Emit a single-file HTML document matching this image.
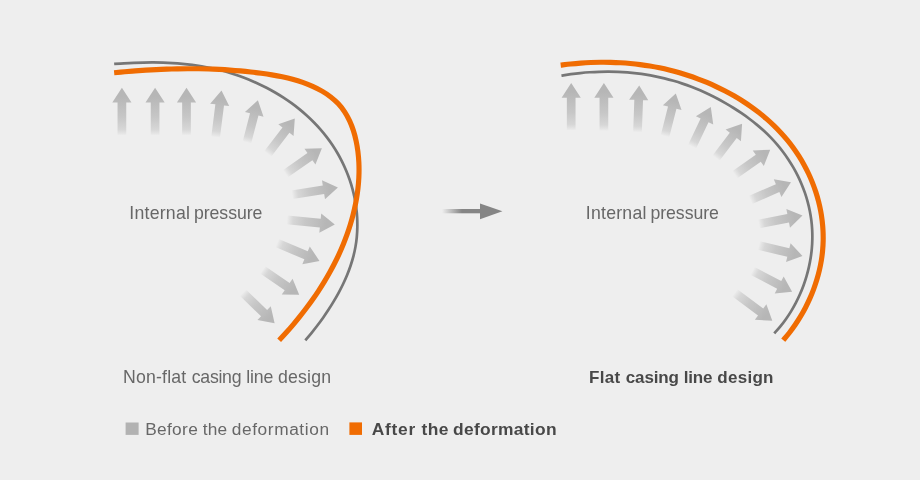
<!DOCTYPE html>
<html lang="en"><head><meta charset="utf-8"><title>Casing line design</title>
<style>
html,body{margin:0;padding:0;background:#eeeeee;}
body{width:920px;height:480px;overflow:hidden;position:relative;font-family:"Liberation Sans",sans-serif;}
svg{position:absolute;left:0;top:0;display:block;will-change:transform}
text{font-family:"Liberation Sans",sans-serif;}
</style></head><body>
<svg width="920" height="480" viewBox="0 0 920 480">
<defs>
<linearGradient id="ag" x1="0" y1="0" x2="1" y2="0">
<stop offset="0" stop-color="#b6b6b6" stop-opacity="0"/>
<stop offset="0.05" stop-color="#b6b6b6" stop-opacity="0.18"/>
<stop offset="0.13" stop-color="#b6b6b6" stop-opacity="0.42"/>
<stop offset="0.38" stop-color="#b6b6b6" stop-opacity="0.70"/>
<stop offset="0.68" stop-color="#b6b6b6" stop-opacity="0.9"/>
<stop offset="0.82" stop-color="#b6b6b6" stop-opacity="1"/>
</linearGradient>
<linearGradient id="mg" gradientUnits="userSpaceOnUse" x1="442" y1="0" x2="462" y2="0">
<stop offset="0" stop-color="#858585" stop-opacity="0"/>
<stop offset="1" stop-color="#858585" stop-opacity="1"/>
</linearGradient>
</defs>
<rect width="920" height="480" fill="#eeeeee"/>

<g>
<path d="M0 -4.35 L33.20 -4.35 L33.20 -9.60 L47.80 0 L33.20 9.60 L33.20 4.35 L0 4.35 Z" fill="url(#ag)" transform="translate(121.90 135.60) rotate(-90.00)"/>
<path d="M0 -4.35 L33.20 -4.35 L33.20 -9.60 L47.80 0 L33.20 9.60 L33.20 4.35 L0 4.35 Z" fill="url(#ag)" transform="translate(155.10 135.60) rotate(-90.00)"/>
<path d="M0 -4.35 L33.20 -4.35 L33.20 -9.60 L47.80 0 L33.20 9.60 L33.20 4.35 L0 4.35 Z" fill="url(#ag)" transform="translate(186.50 135.60) rotate(-90.00)"/>
<path d="M0 -4.35 L32.67 -4.35 L32.67 -9.60 L47.27 0 L32.67 9.60 L32.67 4.35 L0 4.35 Z" fill="url(#ag)" transform="translate(215.60 137.30) rotate(-82.83)"/>
<path d="M0 -4.35 L29.11 -4.35 L29.11 -9.60 L43.71 0 L29.11 9.60 L29.11 4.35 L0 4.35 Z" fill="url(#ag)" transform="translate(246.90 142.50) rotate(-75.42)"/>
<path d="M0 -4.35 L30.06 -4.35 L30.06 -9.60 L44.66 0 L30.06 9.60 L30.06 4.35 L0 4.35 Z" fill="url(#ag)" transform="translate(267.70 154.00) rotate(-52.64)"/>
<path d="M0 -4.35 L29.90 -4.35 L29.90 -9.60 L44.50 0 L29.90 9.60 L29.90 4.35 L0 4.35 Z" fill="url(#ag)" transform="translate(285.40 173.75) rotate(-34.89)"/>
<path d="M0 -4.35 L31.88 -4.35 L31.88 -9.60 L46.48 0 L31.88 9.60 L31.88 4.35 L0 4.35 Z" fill="url(#ag)" transform="translate(292.00 194.80) rotate(-9.04)"/>
<path d="M0 -4.35 L33.54 -4.35 L33.54 -9.60 L48.14 0 L33.54 9.60 L33.54 4.35 L0 4.35 Z" fill="url(#ag)" transform="translate(286.90 219.80) rotate(5.72)"/>
<path d="M0 -4.35 L31.55 -4.35 L31.55 -9.60 L46.15 0 L31.55 9.60 L31.55 4.35 L0 4.35 Z" fill="url(#ag)" transform="translate(277.00 243.00) rotate(22.95)"/>
<path d="M0 -4.35 L29.64 -4.35 L29.64 -9.60 L44.24 0 L29.64 9.60 L29.64 4.35 L0 4.35 Z" fill="url(#ag)" transform="translate(262.70 269.80) rotate(34.41)"/>
<path d="M0 -4.35 L29.46 -4.35 L29.46 -9.60 L44.06 0 L29.46 9.60 L29.46 4.35 L0 4.35 Z" fill="url(#ag)" transform="translate(242.90 292.70) rotate(43.99)"/>
<path d="M0 -4.35 L32.90 -4.35 L32.90 -9.60 L47.50 0 L32.90 9.60 L32.90 4.35 L0 4.35 Z" fill="url(#ag)" transform="translate(571.20 130.60) rotate(-90.00)"/>
<path d="M0 -4.35 L33.30 -4.35 L33.30 -9.60 L47.90 0 L33.30 9.60 L33.30 4.35 L0 4.35 Z" fill="url(#ag)" transform="translate(603.90 131.00) rotate(-90.00)"/>
<path d="M0 -4.35 L32.33 -4.35 L32.33 -9.60 L46.93 0 L32.33 9.60 L32.33 4.35 L0 4.35 Z" fill="url(#ag)" transform="translate(637.50 132.30) rotate(-87.92)"/>
<path d="M0 -4.35 L29.49 -4.35 L29.49 -9.60 L44.09 0 L29.49 9.60 L29.49 4.35 L0 4.35 Z" fill="url(#ag)" transform="translate(665.00 136.25) rotate(-75.82)"/>
<path d="M0 -4.35 L29.19 -4.35 L29.19 -9.60 L43.79 0 L29.19 9.60 L29.19 4.35 L0 4.35 Z" fill="url(#ag)" transform="translate(692.10 146.70) rotate(-64.72)"/>
<path d="M0 -4.35 L28.54 -4.35 L28.54 -9.60 L43.14 0 L28.54 9.60 L28.54 4.35 L0 4.35 Z" fill="url(#ag)" transform="translate(716.00 158.10) rotate(-52.77)"/>
<path d="M0 -4.35 L28.74 -4.35 L28.74 -9.60 L43.34 0 L28.74 9.60 L28.74 4.35 L0 4.35 Z" fill="url(#ag)" transform="translate(734.80 174.80) rotate(-35.23)"/>
<path d="M0 -4.35 L29.69 -4.35 L29.69 -9.60 L44.29 0 L29.69 9.60 L29.69 4.35 L0 4.35 Z" fill="url(#ag)" transform="translate(750.40 200.00) rotate(-23.56)"/>
<path d="M0 -4.35 L29.95 -4.35 L29.95 -9.60 L44.55 0 L29.95 9.60 L29.95 4.35 L0 4.35 Z" fill="url(#ag)" transform="translate(758.75 224.00) rotate(-10.87)"/>
<path d="M0 -4.35 L30.42 -4.35 L30.42 -9.60 L45.02 0 L30.42 9.60 L30.42 4.35 L0 4.35 Z" fill="url(#ag)" transform="translate(758.75 245.40) rotate(13.62)"/>
<path d="M0 -4.35 L30.18 -4.35 L30.18 -9.60 L44.78 0 L30.18 9.60 L30.18 4.35 L0 4.35 Z" fill="url(#ag)" transform="translate(752.50 270.80) rotate(27.82)"/>
<path d="M0 -4.35 L32.26 -4.35 L32.26 -9.60 L46.86 0 L32.26 9.60 L32.26 4.35 L0 4.35 Z" fill="url(#ag)" transform="translate(734.80 292.70) rotate(36.85)"/>
</g>
<path d="M114.16 63.97 C115.79 63.86 120.69 63.50 123.95 63.31 C127.21 63.12 130.47 62.95 133.74 62.82 C137.00 62.69 140.26 62.59 143.52 62.53 C146.78 62.47 150.03 62.44 153.29 62.45 C156.54 62.47 159.79 62.52 163.04 62.63 C166.28 62.73 169.52 62.88 172.76 63.08 C175.99 63.27 179.22 63.52 182.44 63.82 C185.67 64.12 188.88 64.48 192.09 64.89 C195.30 65.31 198.49 65.78 201.68 66.31 C204.87 66.85 208.05 67.44 211.22 68.11 C214.39 68.77 217.55 69.50 220.70 70.31 C223.85 71.11 226.99 71.98 230.11 72.93 C233.23 73.88 236.34 74.90 239.42 75.99 C242.50 77.09 245.57 78.25 248.61 79.49 C251.65 80.72 254.66 82.03 257.64 83.40 C260.62 84.78 263.58 86.22 266.49 87.74 C269.40 89.25 272.28 90.84 275.11 92.49 C277.94 94.14 280.74 95.86 283.48 97.65 C286.22 99.44 288.92 101.29 291.56 103.21 C294.20 105.13 296.80 107.12 299.33 109.17 C301.86 111.22 304.33 113.34 306.74 115.52 C309.15 117.70 311.50 119.95 313.77 122.26 C316.05 124.57 318.26 126.94 320.39 129.38 C322.52 131.81 324.58 134.31 326.55 136.87 C328.53 139.43 330.43 142.05 332.24 144.73 C334.05 147.41 335.78 150.16 337.41 152.96 C339.05 155.76 340.59 158.62 342.04 161.53 C343.49 164.44 344.85 167.40 346.11 170.40 C347.37 173.40 348.53 176.45 349.59 179.52 C350.64 182.60 351.60 185.71 352.45 188.85 C353.30 191.99 354.05 195.16 354.68 198.34 C355.32 201.53 355.85 204.74 356.26 207.95 C356.67 211.16 356.97 214.40 357.15 217.63 C357.33 220.86 357.39 224.10 357.33 227.33 C357.27 230.56 357.10 233.79 356.79 237.01 C356.49 240.23 356.06 243.44 355.50 246.62 C354.94 249.81 354.25 252.98 353.44 256.12 C352.63 259.27 351.69 262.39 350.65 265.48 C349.62 268.58 348.46 271.65 347.22 274.69 C345.98 277.72 344.63 280.73 343.22 283.71 C341.80 286.69 340.29 289.63 338.73 292.54 C337.17 295.45 335.52 298.33 333.84 301.16 C332.15 304.00 330.40 306.80 328.61 309.55 C326.82 312.30 324.98 315.02 323.11 317.68 C321.23 320.35 319.31 322.97 317.36 325.54 C315.42 328.11 313.43 330.64 311.43 333.10 C309.43 335.57 306.37 339.14 305.35 340.34" fill="none" stroke="#767676" stroke-width="2.7"/>
<path d="M114.14 72.74 C115.90 72.58 121.19 72.07 124.71 71.77 C128.24 71.47 131.75 71.18 135.27 70.92 C138.79 70.65 142.30 70.41 145.81 70.19 C149.32 69.97 152.83 69.77 156.34 69.60 C159.84 69.42 163.35 69.27 166.85 69.15 C170.35 69.03 173.86 68.93 177.36 68.86 C180.86 68.79 184.36 68.75 187.85 68.73 C191.35 68.72 194.85 68.74 198.34 68.78 C201.84 68.83 205.34 68.91 208.83 69.02 C212.33 69.13 215.82 69.27 219.32 69.44 C222.81 69.62 226.31 69.83 229.81 70.08 C233.30 70.32 236.80 70.60 240.30 70.92 C243.79 71.24 247.29 71.60 250.79 71.99 C254.29 72.39 257.79 72.81 261.29 73.29 C264.79 73.77 268.30 74.28 271.79 74.86 C275.27 75.45 278.76 76.09 282.22 76.83 C285.68 77.57 289.14 78.37 292.55 79.31 C295.96 80.24 299.36 81.27 302.70 82.44 C306.04 83.61 309.38 84.90 312.61 86.35 C315.83 87.80 319.02 89.39 322.04 91.15 C325.06 92.92 328.00 94.83 330.72 96.94 C333.44 99.05 336.02 101.33 338.34 103.81 C340.66 106.29 342.75 108.99 344.63 111.84 C346.51 114.68 348.15 117.73 349.61 120.87 C351.07 124.00 352.32 127.31 353.40 130.65 C354.49 134.00 355.37 137.47 356.12 140.95 C356.87 144.42 357.45 147.97 357.90 151.50 C358.35 155.03 358.66 158.58 358.84 162.12 C359.03 165.66 359.07 169.21 359.01 172.75 C358.95 176.29 358.76 179.83 358.46 183.35 C358.17 186.87 357.76 190.39 357.26 193.89 C356.76 197.38 356.15 200.87 355.46 204.32 C354.76 207.78 353.97 211.21 353.11 214.62 C352.25 218.02 351.29 221.40 350.27 224.75 C349.24 228.09 348.14 231.41 346.96 234.71 C345.78 238.00 344.53 241.26 343.20 244.49 C341.88 247.73 340.49 250.93 339.03 254.11 C337.57 257.28 336.04 260.43 334.45 263.54 C332.86 266.66 331.21 269.75 329.50 272.80 C327.79 275.86 326.02 278.89 324.20 281.89 C322.37 284.88 320.49 287.85 318.56 290.79 C316.64 293.72 314.65 296.63 312.62 299.50 C310.60 302.38 308.52 305.22 306.40 308.04 C304.28 310.85 302.12 313.64 299.92 316.39 C297.72 319.14 295.47 321.86 293.20 324.55 C290.92 327.24 288.61 329.89 286.26 332.52 C283.92 335.14 280.33 339.00 279.14 340.30" fill="none" stroke="#f06c02" stroke-width="5.15"/>
<path d="M561.45 75.60 C563.02 75.36 567.72 74.59 570.86 74.16 C573.99 73.74 577.14 73.36 580.29 73.05 C583.43 72.73 586.58 72.46 589.73 72.26 C592.88 72.05 596.03 71.89 599.18 71.79 C602.32 71.70 605.47 71.66 608.61 71.67 C611.76 71.69 614.90 71.76 618.03 71.89 C621.16 72.02 624.29 72.21 627.42 72.46 C630.54 72.71 633.65 73.02 636.76 73.39 C639.87 73.76 642.96 74.19 646.05 74.68 C649.14 75.17 652.21 75.73 655.28 76.34 C658.34 76.96 661.39 77.64 664.43 78.38 C667.46 79.12 670.48 79.93 673.49 80.80 C676.49 81.67 679.48 82.61 682.45 83.61 C685.43 84.61 688.38 85.67 691.31 86.80 C694.24 87.92 697.16 89.11 700.05 90.35 C702.94 91.60 705.81 92.90 708.66 94.26 C711.50 95.62 714.32 97.04 717.12 98.51 C719.92 99.98 722.69 101.51 725.43 103.09 C728.17 104.67 730.89 106.30 733.58 107.99 C736.26 109.67 738.92 111.40 741.54 113.19 C744.15 114.98 746.74 116.82 749.27 118.72 C751.80 120.62 754.30 122.58 756.73 124.59 C759.16 126.61 761.55 128.68 763.86 130.81 C766.18 132.95 768.44 135.14 770.63 137.40 C772.82 139.66 774.94 141.99 776.99 144.37 C779.03 146.75 781.01 149.21 782.90 151.71 C784.79 154.21 786.61 156.78 788.34 159.39 C790.07 162.00 791.72 164.67 793.28 167.38 C794.85 170.09 796.33 172.85 797.71 175.65 C799.10 178.45 800.40 181.30 801.60 184.18 C802.81 187.06 803.92 189.98 804.93 192.93 C805.94 195.87 806.86 198.86 807.67 201.86 C808.49 204.87 809.20 207.91 809.81 210.97 C810.42 214.02 810.92 217.10 811.31 220.20 C811.70 223.29 811.99 226.41 812.16 229.54 C812.33 232.66 812.39 235.80 812.33 238.94 C812.28 242.08 812.11 245.24 811.83 248.38 C811.56 251.52 811.17 254.67 810.68 257.80 C810.19 260.93 809.59 264.05 808.89 267.15 C808.19 270.24 807.39 273.33 806.49 276.37 C805.59 279.42 804.59 282.45 803.50 285.43 C802.41 288.41 801.22 291.37 799.94 294.27 C798.66 297.17 797.28 300.03 795.82 302.84 C794.36 305.64 792.81 308.40 791.18 311.08 C789.55 313.77 787.82 316.40 786.02 318.96 C784.22 321.51 782.34 324.01 780.38 326.41 C778.42 328.82 775.28 332.23 774.26 333.40" fill="none" stroke="#767676" stroke-width="2.7"/>
<path d="M560.69 65.17 C562.36 64.97 567.38 64.31 570.72 63.96 C574.06 63.62 577.39 63.32 580.72 63.07 C584.06 62.83 587.39 62.64 590.71 62.50 C594.03 62.36 597.35 62.28 600.66 62.25 C603.97 62.22 607.28 62.24 610.58 62.32 C613.88 62.41 617.18 62.54 620.46 62.74 C623.75 62.93 627.03 63.18 630.30 63.49 C633.58 63.80 636.84 64.16 640.10 64.59 C643.35 65.02 646.60 65.50 649.84 66.04 C653.08 66.59 656.31 67.19 659.52 67.85 C662.74 68.52 665.95 69.24 669.15 70.03 C672.35 70.82 675.54 71.66 678.71 72.58 C681.89 73.49 685.05 74.46 688.20 75.50 C691.36 76.54 694.50 77.64 697.62 78.80 C700.74 79.97 703.85 81.20 706.94 82.49 C710.02 83.78 713.09 85.14 716.12 86.56 C719.15 87.98 722.16 89.46 725.14 91.01 C728.11 92.56 731.05 94.17 733.95 95.84 C736.85 97.51 739.72 99.25 742.54 101.04 C745.36 102.84 748.13 104.70 750.86 106.63 C753.58 108.55 756.26 110.54 758.88 112.58 C761.50 114.63 764.07 116.74 766.57 118.92 C769.08 121.09 771.53 123.33 773.90 125.62 C776.28 127.92 778.60 130.28 780.84 132.70 C783.08 135.12 785.25 137.60 787.34 140.15 C789.44 142.69 791.46 145.30 793.39 147.97 C795.32 150.63 797.18 153.37 798.94 156.15 C800.71 158.93 802.39 161.78 803.98 164.67 C805.57 167.56 807.07 170.51 808.48 173.49 C809.88 176.48 811.20 179.51 812.42 182.58 C813.63 185.64 814.76 188.76 815.78 191.89 C816.80 195.03 817.72 198.20 818.54 201.40 C819.36 204.59 820.07 207.82 820.68 211.06 C821.29 214.30 821.79 217.56 822.18 220.83 C822.57 224.11 822.85 227.40 823.01 230.69 C823.18 233.99 823.23 237.29 823.17 240.60 C823.10 243.90 822.92 247.21 822.61 250.51 C822.31 253.80 821.89 257.11 821.35 260.39 C820.81 263.67 820.16 266.94 819.40 270.19 C818.64 273.44 817.76 276.67 816.79 279.87 C815.82 283.07 814.74 286.24 813.57 289.38 C812.40 292.51 811.12 295.62 809.76 298.67 C808.40 301.72 806.95 304.74 805.41 307.70 C803.87 310.65 802.24 313.57 800.54 316.41 C798.84 319.26 797.05 322.05 795.19 324.77 C793.34 327.49 791.40 330.15 789.40 332.72 C787.40 335.30 784.23 338.97 783.19 340.23" fill="none" stroke="#f06c02" stroke-width="5.15"/>
<rect x="442" y="209" width="39" height="4.3" fill="url(#mg)"/>
<path d="M480 203.4 L502.4 211.2 L480 219.2 Z" fill="#858585"/>
<rect x="125.6" y="422.5" width="13" height="12.4" fill="#b2b2b2"/>
<rect x="349.4" y="422.4" width="12.6" height="12.5" fill="#f06c02"/>
<text id="t1" y="218.70" font-size="17.70" font-weight="400" fill="#676767"><tspan x="129.35" textLength="60.55" lengthAdjust="spacing">Internal</tspan> <tspan x="193.95" textLength="68.45" lengthAdjust="spacing">pressure</tspan></text>
<text id="t2" y="218.70" font-size="17.70" font-weight="400" fill="#676767"><tspan x="585.85" textLength="60.55" lengthAdjust="spacing">Internal</tspan> <tspan x="650.45" textLength="68.45" lengthAdjust="spacing">pressure</tspan></text>
<text id="t3" y="383.20" font-size="17.70" font-weight="400" fill="#676767"><tspan x="123.00" textLength="63.25" lengthAdjust="spacing">Non-flat</tspan> <tspan x="191.75" textLength="49.75" lengthAdjust="spacing">casing</tspan> <tspan x="246.25" textLength="27.00" lengthAdjust="spacing">line</tspan> <tspan x="278.00" textLength="53.00" lengthAdjust="spacing">design</tspan></text>
<text id="t4" y="383.00" font-size="17.00" font-weight="700" fill="#484848"><tspan x="589.00" textLength="31.25" lengthAdjust="spacing">Flat</tspan> <tspan x="625.75" textLength="53.25" lengthAdjust="spacing">casing</tspan> <tspan x="683.75" textLength="28.75" lengthAdjust="spacing">line</tspan> <tspan x="717.25" textLength="56.25" lengthAdjust="spacing">design</tspan></text>
<text id="t5" y="434.90" font-size="17.30" font-weight="400" fill="#676767"><tspan x="145.20" textLength="52.55" lengthAdjust="spacing">Before</tspan> <tspan x="202.75" textLength="24.25" lengthAdjust="spacing">the</tspan> <tspan x="231.75" textLength="97.25" lengthAdjust="spacing">deformation</tspan></text>
<text id="t6" y="434.80" font-size="17.40" font-weight="700" fill="#484848"><tspan x="371.80" textLength="43.50" lengthAdjust="spacing">After</tspan> <tspan x="421.40" textLength="27.10" lengthAdjust="spacing">the</tspan> <tspan x="453.00" textLength="103.50" lengthAdjust="spacing">deformation</tspan></text>
</svg></body></html>
